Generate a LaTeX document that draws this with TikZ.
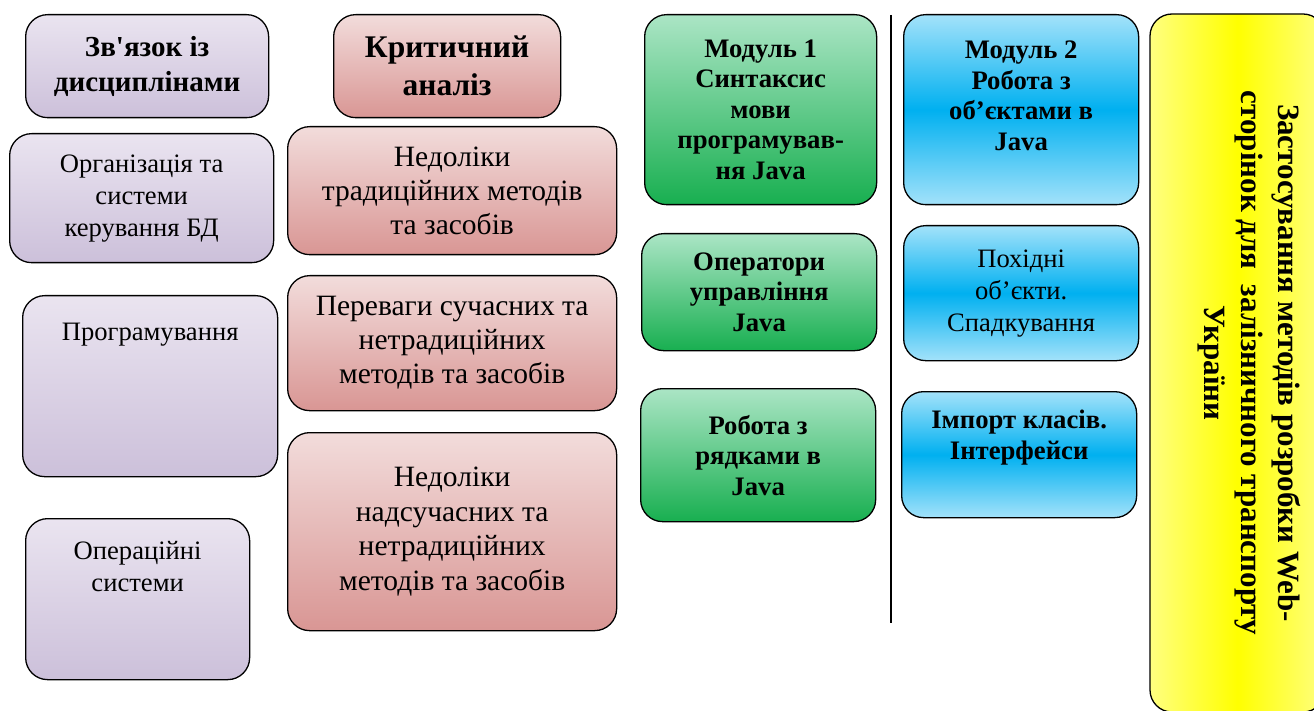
\documentclass[tikz,border=0pt]{standalone}
\usepackage{fontspec}
\setmainfont{Liberation Serif}
\definecolor{lilactop}{HTML}{EAE4F0}
\definecolor{lilacbot}{HTML}{CCC0DA}
\definecolor{rosetop}{HTML}{F2DCDB}
\definecolor{rosebot}{HTML}{D99694}
\definecolor{minttop}{HTML}{ABE5C5}
\definecolor{mintbot}{HTML}{18AF50}
\definecolor{skyedge}{HTML}{A3E2FA}
\definecolor{skymid}{HTML}{00B0F0}
\definecolor{sunedge}{HTML}{FFFF80}
\definecolor{sunmid}{HTML}{FFFF00}
\begin{document}
\begin{tikzpicture}[x=1pt, y=-1pt,
  box/.style = {draw, line width=1.3pt, rounded corners=22pt, align=center, anchor=north west, inner sep=2pt},
  lilac/.style = {box, top color=lilactop, bottom color=lilacbot, font=\fontsize{26.6}{32}\selectfont},
  rose/.style = {box, top color=rosetop, bottom color=rosebot, font=\fontsize{29.5}{34}\selectfont},
  mint/.style = {box, top color=minttop, bottom color=mintbot, font=\bfseries\fontsize{26.7}{30.5}\selectfont},
  sky/.style = {box, top color=skyedge, bottom color=skyedge, middle color=skymid, font=\bfseries\fontsize{26.7}{30.5}\selectfont},
  head/.style = {font=\bfseries\fontsize{29}{35}\selectfont},
  sun/.style = {draw, line width=1.3pt, rounded corners=22pt, align=center, left color=sunedge, right color=sunedge, middle color=sunmid}]
\useasboundingbox (0,0) rectangle (1314,711);
\node[lilac, head, minimum width=243, minimum height=103] (links) at (25,14) {Зв\textquotesingle язок із\\дисциплінами};
\node[lilac, minimum width=264, minimum height=129] (dbms) at (9,133) {Організація та\\системи\\керування БД};
\node[lilac, minimum width=255, minimum height=181, text depth=108pt] (prog) at (22,295) {Програмування};
\node[lilac, minimum width=224, minimum height=161, text depth=66pt] (os) at (25,518) {Операційні\\системи};
\node[rose, font=\bfseries\fontsize{31.5}{38}\selectfont, minimum width=227, minimum height=103] (crit) at (333,14) {Критичний\\аналіз};
\node[rose, minimum width=329, minimum height=128] (trad) at (287,126) {Недоліки\\традиційних методів\\та засобів};
\node[rose, minimum width=329, minimum height=135] (adv) at (287,275) {Переваги сучасних та\\нетрадиційних\\методів та засобів};
\node[rose, font=\fontsize{29.5}{34.5}\selectfont, minimum width=329, minimum height=198] (flaws) at (287,432) {Недоліки\\надсучасних та\\нетрадиційних\\методів та засобів};
\node[mint, minimum width=232, minimum height=190] (mod1) at (644,14) {Модуль 1\\Синтаксис\\мови\\програмував-\\ня Java};
\node[mint, minimum width=235, minimum height=117] (ops) at (641,233) {Оператори\\управління\\Java};
\node[mint, minimum width=235, minimum height=133] (str) at (640,388) {Робота з\\рядками в\\Java};
\coordinate (top) at (891,15);
\coordinate (bot) at (891,623);
\draw[line width=2.5pt] (top) -- (bot);
\node[sky, minimum width=235, minimum height=190, text depth=28pt] (mod2) at (903,14) {Модуль 2\\Робота з\\об’єктами в\\Java};
\node[sky, font=\fontsize{26.6}{32}\selectfont, minimum width=235, minimum height=135] (inh) at (903,225) {Похідні\\об’єкти.\\Спадкування};
\node[sky, minimum width=235, minimum height=126, text depth=40pt] (imp) at (901,391) {Імпорт класів.\\Інтерфейси};
\node[sun, rotate=-90, minimum width=698, minimum height=175, text depth=30pt, font=\bfseries\fontsize{31}{37}\selectfont] (web) at (1237.5,363) {Застосування методів розробки Web-\\сторінок для~ залізничного транспорту\\України};
\end{tikzpicture}
\end{document}
